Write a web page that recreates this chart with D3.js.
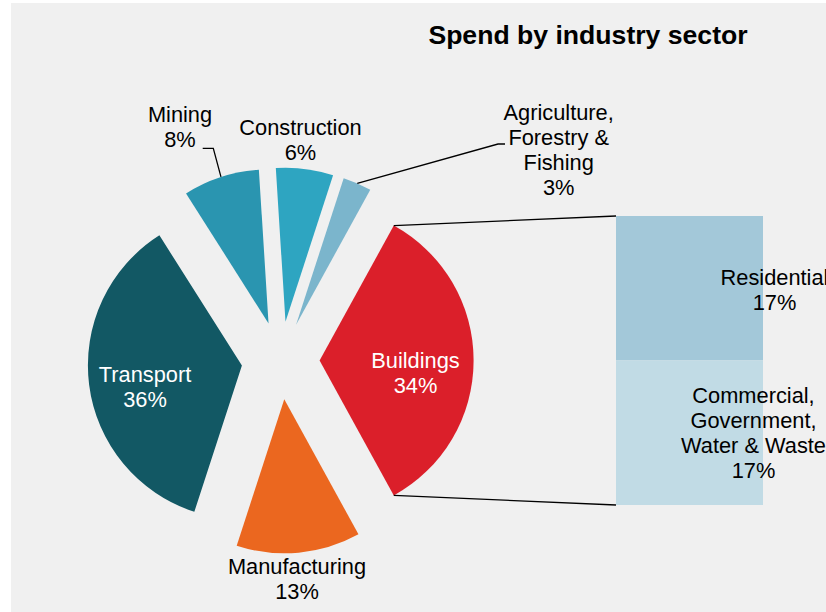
<!DOCTYPE html>
<html>
<head>
<meta charset="utf-8">
<script src="https://cdn.jsdelivr.net/npm/d3@7"></script>
<style>
  html, body { margin: 0; padding: 0; background: #ffffff; }
  svg { display: block; }
  text { font-family: "Liberation Sans", Arial, sans-serif; }
</style>
</head>
<body>
<svg id="chart" width="826" height="612"></svg>
<script>
// ---- data ----
const title = "Spend by industry sector";
const categories = ["Buildings", "Manufacturing", "Transport", "Mining", "Construction", "Agriculture,\nForestry &\nFishing"];
const values = [34, 13, 36, 8, 6, 3];
const subCategories = ["Residential", "Commercial,\nGovernment,\nWater & Waste"];
const subValues = [17, 17];

// ---- styling / layout ----
const colors = ["#db1f2a", "#eb671f", "#125864", "#2a95b0", "#2ea5c1", "#7bb5cc"];
const subColors = ["#a3c8d9", "#c1dbe5"];
const labelColors = ["#ffffff", "#000000", "#ffffff", "#000000", "#000000", "#000000"];
const labelPos = [[415.5, 367.7], [297, 574], [145, 381.7], [180, 122], [300.5, 135], [558.7, 119.5]];
const subLabelPos = [[774.5, 285], [753.5, 403.3]];
const lineH = 25;
const fontSize = 21.8;

const svg = d3.select("#chart");
svg.append("rect").attr("x", 11).attr("y", 3).attr("width", 815).attr("height", 609).attr("fill", "#f0f0f0");

svg.append("text").attr("x", 588).attr("y", 44.3).attr("text-anchor", "middle")
  .attr("font-size", 26.6).attr("font-weight", "bold").attr("fill", "#000").text(title);

const cx = 280.6, cy = 360.5, R = 154, explode = 39;
const total = d3.sum(values);
const start = Math.PI / 2 - (values[0] / total) * Math.PI;
const pie = d3.pie().sort(null).value(d => d).startAngle(start).endAngle(start + 2 * Math.PI);
const arcs = pie(values);
const arc = d3.arc().innerRadius(0).outerRadius(R);
const dir = a => [Math.sin(a), -Math.cos(a)];

const g = svg.append("g");
arcs.forEach((a, i) => {
  const mid = (a.startAngle + a.endAngle) / 2;
  const [dx, dy] = dir(mid);
  a.tx = cx + dx * explode; a.ty = cy + dy * explode; a.mid = mid;
  g.append("path").attr("d", arc(a)).attr("fill", colors[i])
    .attr("transform", `translate(${a.tx},${a.ty})`);
});

// second plot (bar)
const barX0 = 616, barX1 = 763;
const y = d3.scaleLinear().domain([0, d3.sum(subValues)]).range([216, 505]);
let acc = 0;
const subRects = subValues.map((v, i) => { const r = { y0: acc, y1: acc + v, i }; acc += v; return r; });
svg.selectAll("rect.sub").data(subRects).enter().append("rect").attr("class", "sub")
  .attr("x", barX0).attr("width", barX1 - barX0)
  .attr("y", d => y(d.y0)).attr("height", d => y(d.y1) - y(d.y0))
  .attr("fill", d => subColors[d.i]);

// connector lines from Buildings slice to the bar
const b = arcs[0];
const topC = dir(b.startAngle), botC = dir(b.endAngle);
const lineStyle = sel => sel.attr("stroke", "#000").attr("stroke-width", 1.3).attr("fill", "none");
svg.append("line").attr("x1", b.tx + topC[0] * R).attr("y1", b.ty + topC[1] * R)
  .attr("x2", barX0).attr("y2", y(0)).call(lineStyle);
svg.append("line").attr("x1", b.tx + botC[0] * R).attr("y1", b.ty + botC[1] * R)
  .attr("x2", barX0).attr("y2", y(d3.sum(subValues))).call(lineStyle);

// leader lines
const mA = arcs[3], mD = dir(mA.mid);
svg.append("path").attr("d", d3.line()([[202.7, 148.3], [213.3, 148.3], [mA.tx + mD[0] * R, mA.ty + mD[1] * R]])).call(lineStyle);
const aA = arcs[5], aD = dir(aA.mid);
svg.append("path").attr("d", d3.line()([[aA.tx + aD[0] * R, aA.ty + aD[1] * R], [498, 144], [505, 144]])).call(lineStyle);

// labels
function label(x, y0, lines, color) {
  const t = svg.append("text").attr("x", x).attr("y", y0).attr("text-anchor", "middle")
    .attr("font-size", fontSize).attr("fill", color);
  lines.forEach((l, k) => t.append("tspan").attr("x", x).attr("y", y0 + k * lineH).text(l));
}
arcs.forEach((a, i) => {
  label(labelPos[i][0], labelPos[i][1], categories[i].split("\n").concat([values[i] + "%"]), labelColors[i]);
});
subValues.forEach((v, i) => {
  label(subLabelPos[i][0], subLabelPos[i][1], subCategories[i].split("\n").concat([v + "%"]), "#000");
});
</script>
</body>
</html>
